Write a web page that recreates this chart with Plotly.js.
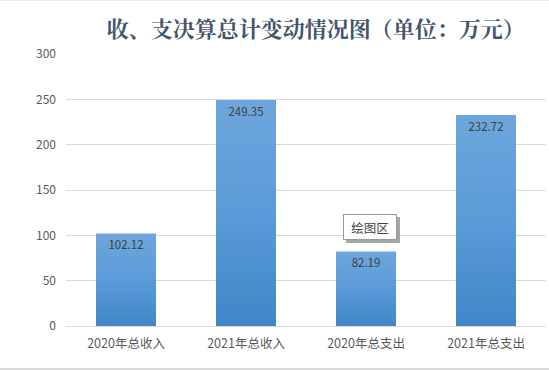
<!DOCTYPE html>
<html><head><meta charset="utf-8">
<script src="https://cdn.plot.ly/plotly-3.0.1.min.js"></script>
<style>html,body{margin:0;padding:0;background:#fff;}#chart{width:549px;height:370px;}</style>
</head><body><div id="chart"></div>
<script>
const categories = ['2020年总收入', '2021年总收入', '2020年总支出', '2021年总支出'];
const values = [102.12, 249.35, 82.19, 232.72];
const valueLabels = ['102.12', '249.35', '82.19', '232.72'];
const yTicks = [0, 50, 100, 150, 200, 250, 300];
const titleText = '收、支决算总计变动情况图（单位：万元）';
const tipText = '绘图区';

const font = '"Noto Sans CJK SC", "Microsoft YaHei", sans-serif';
const trace = {
  type: 'bar', x: categories, y: values,
  text: valueLabels, textposition: 'inside', insidetextanchor: 'end',
  textangle: 0,
  textfont: {family: font, size: 11.5, color: '#404040'},
  marker: {color: '#5b9bd5'}, hoverinfo: 'none', cliponaxis: false
};
const layout = {
  width: 549, height: 370,
  margin: {l: 66, r: 3, t: 54, b: 44},
  paper_bgcolor: '#fff', plot_bgcolor: '#fff',
  bargap: 0.5,
  showlegend: false,
  title: {text: '<b>' + titleText + '</b>', x: 0.575, xanchor: 'center', y: 0.92, yanchor: 'middle',
          font: {family: '"Noto Serif CJK SC", "Noto Sans CJK SC", serif', size: 22, color: '#44546a'}},
  xaxis: {showgrid: false, zeroline: false, showline: true, linecolor: '#d9d9d9', linewidth: 1,
          ticks: '', ticklabelstandoff: 6, tickfont: {family: font, size: 12.5, color: '#595959'}},
  yaxis: {range: [0, 300], tickvals: yTicks, showgrid: true, gridcolor: '#d9d9d9', gridwidth: 1,
          zeroline: false, showline: false, ticks: '', ticklen: 0, ticklabelstandoff: 9,
          tickfont: {family: font, size: 12, color: '#595959'}},
  shapes: [
    {type: 'line', xref: 'paper', yref: 'paper', x0: -0.2, x1: 1.1, y0: 1.2, y1: 1.2, line: {color: '#d9d9d9', width: 2}},
    {type: 'line', xref: 'paper', yref: 'paper', x0: -0.2, x1: 1.1, y0: -0.158, y1: -0.158, line: {color: '#d9d9d9', width: 2}}
  ],
  annotations: [
    {x: 2, y: 109, xref: 'x', yref: 'y', text: ' ', showarrow: false, xshift: 7, yshift: -3,
     width: 46, height: 18, bgcolor: '#a6a6a6', bordercolor: '#a6a6a6', borderwidth: 1, borderpad: 3,
     font: {family: font, size: 12, color: '#a6a6a6'}},
    {x: 2, y: 109, xref: 'x', yref: 'y', text: tipText, showarrow: false, xshift: 4,
     width: 46, height: 18, bgcolor: '#ffffff', bordercolor: '#999999', borderwidth: 1, borderpad: 3,
     font: {family: font, size: 12.5, color: '#404040'}}
  ]
};
Plotly.newPlot('chart', [trace], layout, {staticPlot: true}).then(function(gd){
  const svg = gd.querySelector('svg.main-svg');
  const ns = 'http://www.w3.org/2000/svg';
  let defs = svg.querySelector('defs');
  if (!defs) { defs = document.createElementNS(ns, 'defs'); svg.insertBefore(defs, svg.firstChild); }
  const g = document.createElementNS(ns, 'linearGradient');
  g.setAttribute('id', 'barGrad'); g.setAttribute('x1', '0'); g.setAttribute('y1', '0');
  g.setAttribute('x2', '0'); g.setAttribute('y2', '1');
  [['0%', '#6ea6dc'], ['50%', '#5a9bd8'], ['100%', '#4186c7']].forEach(function(s){
    const st = document.createElementNS(ns, 'stop');
    st.setAttribute('offset', s[0]); st.setAttribute('stop-color', s[1]); g.appendChild(st);
  });
  defs.appendChild(g);
  gd.querySelectorAll('.bars .point path').forEach(function(p){ p.style.fill = 'url(#barGrad)'; });
});
</script></body></html>
